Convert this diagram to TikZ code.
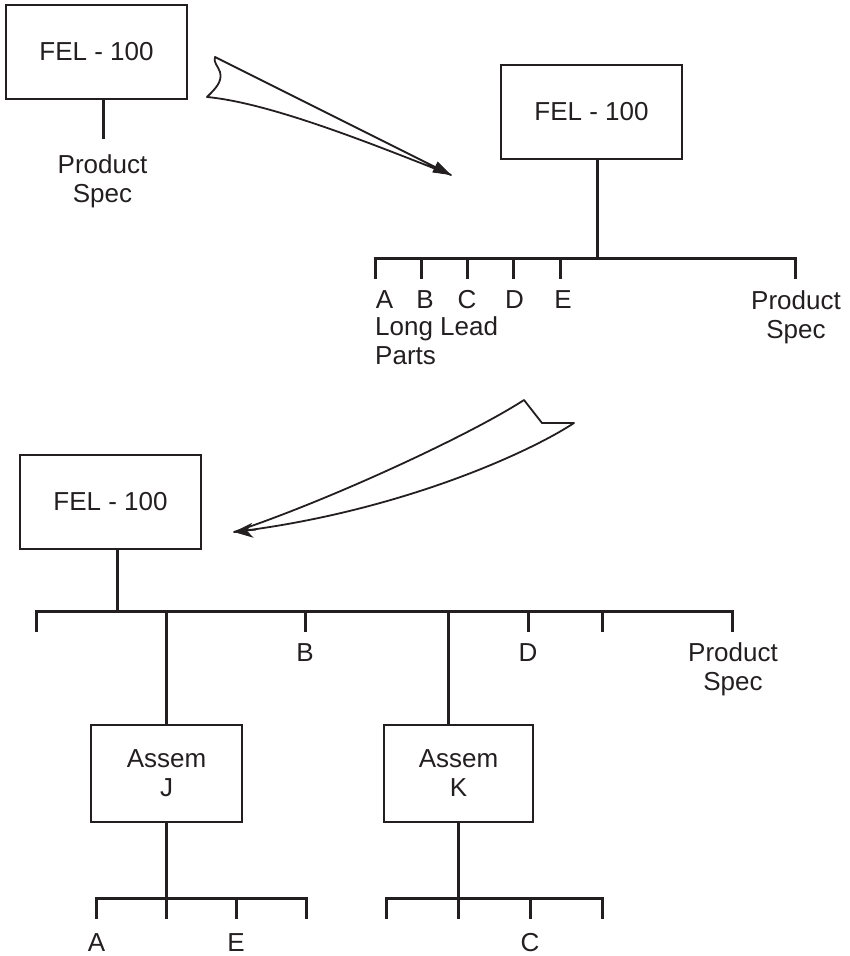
\documentclass[tikz,border=0pt]{standalone}
\usepackage{fontspec}
\setmainfont{Liberation Sans}
\usetikzlibrary{arrows.meta}
\newcommand\labfont{\fontsize{26}{29}\selectfont}
\definecolor{ink}{HTML}{231F20}
\begin{document}
\begin{tikzpicture}[x=1pt,y=-1pt,
  box/.style={draw=ink, line width=1.4pt, inner sep=0pt, align=center, font=\labfont, text=ink},
  lab/.style={inner sep=0pt, align=center, font=\labfont, anchor=north, text=ink},
  tree/.style={line width=3pt, draw=ink},
  ribbon/.style={line width=1.8pt, line join=round, draw=ink, fill=white}]
\useasboundingbox (0,0) rectangle (850,956);

% ---------- boxes ----------
\node[box, minimum width=181pt, minimum height=94pt] (b1) at (96.5,52) {FEL - 100};
\node[box, minimum width=181pt, minimum height=94pt] (b2) at (591.5,112) {FEL - 100};
\node[box, minimum width=181pt, minimum height=94pt] (b3) at (110.5,502) {FEL - 100};
\node[box, minimum width=151pt, minimum height=97pt] (bJ) at (166.5,773.5) {Assem\\J};
\node[box, minimum width=149pt, minimum height=97pt] (bK) at (458.5,773.5) {Assem\\K};

% ---------- tree 1 ----------
\coordinate (s1) at (103,139);
\draw[tree] (s1 |- b1.south) -- (s1);
\node[lab] (ps1) at (102.5,154) {Product\\Spec};

% ---------- tree 2 ----------
\coordinate (j2) at (597,258);
\coordinate (t2a) at (375,279);
\coordinate (t2b) at (421,279);
\coordinate (t2c) at (467,279);
\coordinate (t2d) at (513,279);
\coordinate (t2e) at (560,279);
\coordinate (t2f) at (795,279);
\draw[tree] (j2 |- b2.south) -- (j2);
\draw[tree] (t2a) -- (t2a |- j2) -- (t2f |- j2) -- (t2f);
\foreach \n in {b,c,d,e} \draw[tree] (t2\n |- j2) -- (t2\n);
\node[lab] (l2a) at (384.6,290) {A};
\node[lab] (l2b) at (425,290) {B};
\node[lab] (l2c) at (467,290) {C};
\node[lab] (l2d) at (514.5,290) {D};
\node[lab] (l2e) at (563,290) {E};
\node[lab, anchor=north west, align=left] (llp) at (375,316) {Long Lead\\Parts};
\node[lab] (ps2) at (796,290) {Product\\Spec};

% ---------- tree 3 ----------
\coordinate (j3) at (117,611);
\coordinate (t3a) at (36,632);
\coordinate (t3b) at (305,632);
\coordinate (t3c) at (528,632);
\coordinate (t3d) at (602,632);
\coordinate (t3e) at (732,632);
\coordinate (kx) at (448,611);
\draw[tree] (j3 |- b3.south) -- (j3);
\draw[tree] (t3a) -- (t3a |- j3) -- (t3e |- j3) -- (t3e);
\foreach \n in {b,c,d} \draw[tree] (t3\n |- j3) -- (t3\n);
\draw[tree] (bJ.north |- j3) -- (bJ.north);
\draw[tree] (kx) -- (kx |- bK.north);
\node[lab] (l3b) at (305,643) {B};
\node[lab] (l3d) at (528,643) {D};
\node[lab] (ps3) at (733,642) {Product\\Spec};

% ---------- tree J ----------
\coordinate (jJ) at (166,898);
\coordinate (tJa) at (96,919);
\coordinate (tJb) at (166,919);
\coordinate (tJc) at (236,919);
\coordinate (tJd) at (306,919);
\draw[tree] (tJb |- bJ.south) -- (tJb);
\draw[tree] (tJa) -- (tJa |- jJ) -- (tJd |- jJ) -- (tJd);
\draw[tree] (tJc |- jJ) -- (tJc);
\node[lab] (lJa) at (96.5,933) {A};
\node[lab] (lJe) at (236,933) {E};

% ---------- tree K ----------
\coordinate (jK) at (458,898);
\coordinate (tKa) at (386,919);
\coordinate (tKb) at (458,919);
\coordinate (tKc) at (530,919);
\coordinate (tKd) at (602,919);
\draw[tree] (tKb |- bK.south) -- (tKb);
\draw[tree] (tKa) -- (tKa |- jK) -- (tKd |- jK) -- (tKd);
\draw[tree] (tKc |- jK) -- (tKc);
\node[lab] (lKc) at (530,933) {C};

% ---------- ribbon arrow 1 ----------
\coordinate (a1tip) at (451,175);
\coordinate (a1back) at (427,163);
\draw[ribbon] (215,57) -- (a1tip) .. controls (370,143) and (270,103) .. (207,97)
  .. controls (214,90) and (223,82) .. (220,72)
  .. controls (218,66) and (213,62) .. (215,57) -- cycle;
\draw[draw=ink, fill=ink, line width=0.8pt, -{Triangle[length=18pt,width=12pt]}] (a1back) -- (a1tip);

% ---------- ribbon arrow 2 ----------
\coordinate (a2tip) at (234,532);
\coordinate (a2back) at (256,530);
\draw[ribbon] (524,400) -- (542,423) -- (574,423)
  .. controls (530,452) and (400,512) .. (a2tip)
  .. controls (330,500) and (470,435) .. (524,400) -- cycle;
\draw[draw=ink, fill=ink, line width=0.8pt, -{Stealth[length=19pt,width=15pt,inset=6pt]}] (a2back) -- (a2tip);
\end{tikzpicture}
\end{document}
